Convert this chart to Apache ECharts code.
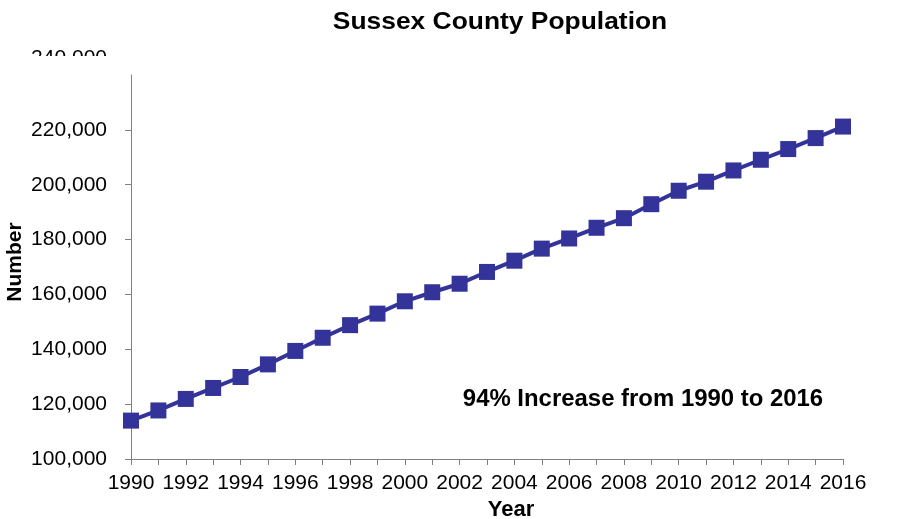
<!DOCTYPE html>
<html>
<head>
<meta charset="utf-8">
<script src="https://cdn.jsdelivr.net/npm/echarts@6/dist/echarts.min.js"></script>
<style>
html,body{margin:0;padding:0;background:#fff;}
#chart{width:898px;height:519px;}
</style>
</head>
<body>
<div id="chart"></div>
<script>
const years = ['1990','1991','1992','1993','1994','1995','1996','1997','1998','1999','2000','2001','2002','2003','2004','2005','2006','2007','2008','2009','2010','2011','2012','2013','2014','2015','2016'];
const population = [114000,117700,121900,125900,129900,134500,139400,144200,148800,153000,157500,160800,163900,168200,172300,176700,180400,184300,187800,192900,197800,201100,205200,209100,213000,217000,221200];
const titleText = 'Sussex County Population';
const yAxisTitle = 'Number';
const xAxisTitle = 'Year';
const annotationText = '94% Increase from 1990 to 2016';
const clippedTopLabel = '240,000';

const FONT = 'Arial, "Liberation Sans", sans-serif';
const chart = echarts.init(document.getElementById('chart'), null, {renderer: 'canvas'});
const fmt = v => v.toLocaleString('en-US');

chart.setOption({
  animation: false,
  backgroundColor: '#ffffff',
  grid: {left: 131, top: 75, width: 712, height: 384, containLabel: false},
  xAxis: {
    type: 'category',
    data: years,
    boundaryGap: false,
    axisLine: {lineStyle: {color: '#808080', width: 1}},
    axisTick: {show: true, interval: 0, length: 6, lineStyle: {color: '#808080'}},
    axisLabel: {interval: 1, color: '#000', fontFamily: FONT, fontSize: 21, margin: 14},
    splitLine: {show: false}
  },
  yAxis: {
    type: 'value',
    min: 100000,
    max: 240000,
    interval: 20000,
    axisLine: {show: true, lineStyle: {color: '#808080', width: 1}},
    axisTick: {show: true, length: 6, lineStyle: {color: '#808080'}},
    axisLabel: {color: '#000', fontFamily: FONT, fontSize: 21, margin: 24, showMaxLabel: false, formatter: fmt},
    splitLine: {show: false}
  },
  series: [{
    type: 'line',
    data: population,
    symbol: 'rect',
    symbolSize: 16,
    lineStyle: {color: '#333399', width: 4},
    itemStyle: {color: '#333399'},
    z: 3
  }],
  graphic: [
    {type: 'text', x: 500, y: 22, scaleX: 1.1, style: {text: titleText, font: 'bold 24px ' + FONT, fill: '#000', textAlign: 'center', textVerticalAlign: 'middle'}},
    {type: 'text', x: 15, y: 262, rotation: Math.PI / 2, style: {text: yAxisTitle, font: 'bold 21px ' + FONT, fill: '#000', textAlign: 'center', textVerticalAlign: 'middle'}},
    {type: 'text', x: 511, y: 510, style: {text: xAxisTitle, font: 'bold 22px ' + FONT, fill: '#000', textAlign: 'center', textVerticalAlign: 'middle'}},
    {type: 'text', x: 643, y: 400, scaleX: 1.04, style: {text: annotationText, font: 'bold 23px ' + FONT, fill: '#000', textAlign: 'center', textVerticalAlign: 'middle'}},
    {type: 'text', x: 107, y: 58, z: 1, style: {text: clippedTopLabel, font: '21px ' + FONT, fill: '#000', textAlign: 'right', textVerticalAlign: 'middle'}},
    {type: 'rect', z: 2, shape: {x: 20, y: 56, width: 105, height: 16}, style: {fill: '#ffffff'}}
  ]
});
</script>
</body>
</html>
